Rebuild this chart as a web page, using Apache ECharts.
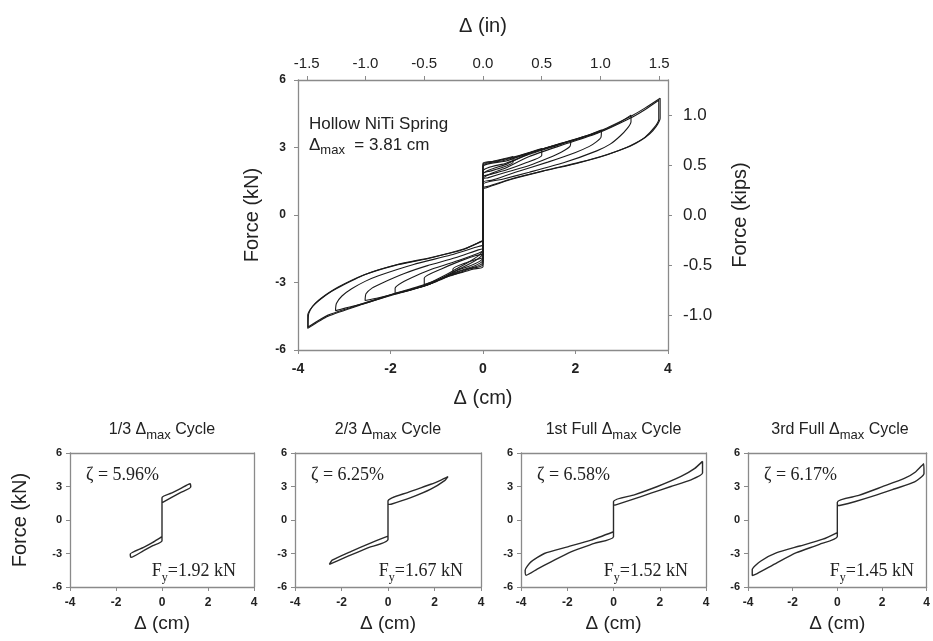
<!DOCTYPE html>
<html><head><meta charset="utf-8">
<script src="https://cdn.jsdelivr.net/npm/echarts@6/dist/echarts.min.js"></script>
<style>html,body{margin:0;padding:0;background:#fff}#c{width:933px;height:641px}</style>
</head><body><div id="c"></div>
<script>
// ---------- tick labels ----------
const cmTicksInterval = 2;          // Δ (cm)
const forceInterval = 3;            // Force (kN)
const inchTicks = [-1.5, -1.0, -0.5, 0.0, 0.5, 1.0, 1.5];   // Δ (in)
const kipTicks = [-1.0, -0.5, 0.0, 0.5, 1.0];                // Force (kips)
const CM_PER_IN = 2.54, KN_PER_KIP = 4.448;

// ---------- main chart: hysteresis loops of increasing amplitude [Δ cm, F kN] ----------
const loopA = [[0,-1.9],[0,2.3],[0.2,2.38],[0.45,2.5],[0.65,2.6],[0.65,2.35],[0.4,2.1],[0.15,1.95],[0,1.85],[0,-2.3],[-0.2,-2.4],[-0.45,-2.55],[-0.65,-2.65],[-0.65,-2.4],[-0.4,-2.15],[-0.15,-1.98],[0,-1.9]];
const loopB = [[0,-1.75],[0,2.25],[0.3,2.4],[0.7,2.6],[1.0,2.78],[1.27,2.95],[1.27,2.65],[0.9,2.3],[0.5,2.0],[0.15,1.8],[0,1.7],[0,-2.2],[-0.3,-2.4],[-0.7,-2.7],[-1.0,-2.9],[-1.27,-3.1],[-1.27,-2.8],[-0.9,-2.4],[-0.5,-2.05],[-0.15,-1.8],[0,-1.75]];
const loopC = [[0,-1.6],[0,2.2],[0.4,2.4],[0.9,2.7],[1.4,3.0],[1.9,3.3],[1.88,3.05],[1.7,2.8],[1.4,2.52],[1.0,2.2],[0.5,1.9],[0.1,1.65],[0,1.6],[0,-2.1],[-0.5,-2.5],[-1.0,-2.95],[-1.5,-3.3],[-1.9,-3.5],[-1.9,-3.25],[-1.75,-3.0],[-1.45,-2.7],[-1.1,-2.4],[-0.5,-2.0],[-0.1,-1.7],[0,-1.6]];
const loopD = [[0,-1.5],[0,2.15],[0.5,2.4],[1.0,2.75],[1.7,3.2],[2.2,3.5],[2.56,3.78],[2.55,3.45],[2.45,3.25],[2.3,3.05],[2.0,2.78],[1.4,2.35],[0.7,1.9],[0.2,1.55],[0,1.45],[0,-2.0],[-0.6,-2.55],[-1.2,-3.1],[-1.9,-3.5],[-2.3,-3.7],[-2.55,-3.8],[-2.53,-3.5],[-2.4,-3.25],[-2.2,-3.04],[-1.7,-2.6],[-1.2,-2.25],[-0.6,-1.9],[-0.1,-1.55],[0,-1.5]];
const loopE = [[0,-1.35],[0,1.95],[0.5,2.3],[1.0,2.7],[1.7,3.15],[2.46,3.65],[2.9,4.05],[3.2,4.44],[3.2,4.15],[3.12,3.85],[2.96,3.5],[2.75,3.15],[2.46,2.85],[1.74,2.32],[1.0,1.9],[0.4,1.58],[0,1.35],[0,-1.9],[-0.6,-2.5],[-1.2,-3.1],[-1.9,-3.5],[-2.6,-3.95],[-3.0,-4.15],[-3.19,-4.25],[-3.17,-3.93],[-3.05,-3.6],[-2.84,-3.28],[-2.55,-2.95],[-2.26,-2.7],[-1.5,-2.2],[-0.7,-1.78],[-0.1,-1.4],[0,-1.35]];
const loopF = [[0,-1.2],[0,1.8],[0.5,2.25],[1.02,2.75],[1.73,3.2],[2.46,3.68],[3.18,4.37],[3.5,4.75],[3.83,5.19],[3.83,4.3],[3.75,3.95],[3.6,3.6],[3.4,3.3],[3.18,3.06],[2.67,2.68],[2.1,2.35],[1.38,2.0],[0.66,1.63],[0.08,1.26],[0,1.22],[0,-1.7],[-0.61,-2.5],[-1.18,-3.1],[-1.9,-3.52],[-2.62,-3.98],[-3.35,-4.5],[-3.79,-5.04],[-3.79,-4.44],[-3.7,-4.1],[-3.56,-3.8],[-3.35,-3.48],[-3.13,-3.2],[-2.62,-2.7],[-1.9,-2.24],[-1.18,-1.93],[-0.46,-1.56],[-0.06,-1.19],[0,-1.15]];
const loopG = [[0,-1.15],[0,1.6],[0.5,2.1],[1.0,2.6],[1.73,3.12],[2.46,3.62],[3.18,4.3],[3.5,4.68],[3.8,5.1],[3.8,4.25],[3.7,3.88],[3.5,3.45],[3.3,3.2],[3.1,3.0],[2.6,2.62],[2.0,2.28],[1.3,1.95],[0.6,1.58],[0.05,1.2],[0,1.18],[0,-1.55],[-0.6,-2.42],[-1.2,-3.05],[-1.9,-3.48],[-2.62,-3.95],[-3.35,-4.45],[-3.78,-4.98],[-3.77,-4.4],[-3.68,-4.05],[-3.5,-3.72],[-3.28,-3.4],[-3.05,-3.14],[-2.55,-2.64],[-1.85,-2.2],[-1.1,-1.88],[-0.4,-1.5],[0,-1.15]];
const mainLoops = [loopA, loopB, loopC, loopD, loopE, loopF, loopG];

// ---------- small panels ----------
const cycleThird     = [[0,-1.5],[0,2.0],[0.4,2.4],[0.8,2.8],[1.22,3.25],[1.25,2.95],[0.8,2.45],[0.4,2.0],[0.05,1.6],[0,1.55],[0,-1.85],[-0.4,-2.3],[-0.8,-2.75],[-1.35,-3.35],[-1.38,-3.05],[-0.8,-2.45],[-0.4,-2.0],[-0.05,-1.55],[0,-1.5]];
const cycleTwoThird  = [[0,-1.45],[0,1.7],[0.84,2.46],[1.84,3.2],[2.3,3.6],[2.58,3.88],[2.45,3.55],[1.84,2.76],[0.98,2.0],[0.13,1.41],[0,1.38],[0,-1.74],[-0.87,-2.5],[-1.72,-3.24],[-2.2,-3.68],[-2.52,-3.98],[-2.4,-3.6],[-1.58,-2.8],[-0.73,-2.04],[0,-1.45]];
const cycleFull1     = [[0,-1.05],[0,1.65],[0.9,2.25],[1.9,3.0],[2.92,3.9],[3.5,4.6],[3.85,5.25],[3.85,4.2],[3.35,3.6],[2.48,3.0],[1.62,2.4],[0.76,1.8],[0.1,1.35],[0,1.3],[0,-1.5],[-0.83,-2.1],[-1.84,-2.85],[-2.7,-3.75],[-3.3,-4.4],[-3.78,-4.95],[-3.82,-4.5],[-3.57,-3.75],[-2.99,-3.0],[-1.98,-2.4],[-0.97,-1.8],[0,-1.05]];
const cycleFull3     = [[0,-1.12],[0,1.6],[0.96,2.2],[1.99,2.96],[3.0,3.72],[3.5,4.3],[3.87,5.05],[3.88,4.17],[3.46,3.41],[2.58,2.8],[1.7,2.2],[0.81,1.66],[0.1,1.3],[0,1.28],[0,-1.48],[-0.8,-2.18],[-1.83,-2.93],[-2.71,-3.84],[-3.59,-4.8],[-3.81,-4.98],[-3.81,-4.44],[-3.44,-3.69],[-2.71,-2.93],[-1.68,-2.33],[-0.65,-1.72],[0,-1.12]];
const panelLoops  = [cycleThird, cycleTwoThird, cycleFull1, cycleFull3];
const panelTitles = ['1/3 Δ', '2/3 Δ', '1st Full Δ', '3rd Full Δ'];
const panelZeta   = ['5.96%', '6.25%', '6.58%', '6.17%'];
const panelFy     = ['1.92 kN', '1.67 kN', '1.52 kN', '1.45 kN'];

// ---------- layout ----------
const SANS = '"Liberation Sans", Arial, sans-serif';
const SERIF = '"Liberation Serif", "Times New Roman", serif';
const TXT = '#222', AX = '#8a8a8a', LN = '#1a1a1a';
const mainGrid = {left: 298, top: 80, width: 370, height: 270};
const smallTop = 453, smallH = 134;
const smallLefts = [70, 295, 521, 748], smallW = [184, 186, 185, 184];

const grids = [Object.assign({show: false}, mainGrid)];
smallLefts.forEach((l, i) => grids.push({left: l, top: smallTop, width: smallW[i], height: smallH, show: false}));

function baseAxis(extra) {
  return Object.assign({
    type: 'value', splitLine: {show: false},
    axisLine: {onZero: false, lineStyle: {color: AX, width: 1.3}},
    axisTick: {show: true, inside: false, length: 4, lineStyle: {color: AX}},
  }, extra);
}
const xAxes = [
  baseAxis({gridIndex: 0, position: 'bottom', min: -4, max: 4, interval: cmTicksInterval,
    axisLabel: {color: TXT, fontFamily: SANS, fontSize: 14, fontWeight: 'bold', margin: 12},
    name: 'Δ (cm)', nameLocation: 'middle', nameGap: 38,
    nameTextStyle: {color: TXT, fontFamily: SANS, fontSize: 20}}),
  baseAxis({gridIndex: 0, position: 'top', min: -4 / CM_PER_IN, max: 4 / CM_PER_IN,
    axisLabel: {customValues: inchTicks, formatter: v => v.toFixed(1), color: TXT, fontFamily: SANS, fontSize: 15, margin: 9},
    axisTick: {customValues: inchTicks, length: 4, lineStyle: {color: AX}},
    name: 'Δ (in)', nameLocation: 'middle', nameGap: 44,
    nameTextStyle: {color: TXT, fontFamily: SANS, fontSize: 20}})
];
const yAxes = [
  baseAxis({gridIndex: 0, position: 'left', min: -6, max: 6, interval: forceInterval,
    axisLabel: {color: TXT, fontFamily: SANS, fontSize: 12, fontWeight: 'bold', margin: 12},
    name: 'Force (kN)', nameLocation: 'middle', nameGap: 36,
    nameTextStyle: {color: TXT, fontFamily: SANS, fontSize: 20}}),
  baseAxis({gridIndex: 0, position: 'right', min: -6 / KN_PER_KIP, max: 6 / KN_PER_KIP,
    axisLabel: {customValues: kipTicks, formatter: v => v.toFixed(1), color: TXT, fontFamily: SANS, fontSize: 17, margin: 15},
    axisTick: {customValues: kipTicks, length: 4, lineStyle: {color: AX}},
    name: 'Force (kips)', nameLocation: 'middle', nameGap: 62,
    nameTextStyle: {color: TXT, fontFamily: SANS, fontSize: 20}})
];
for (let i = 0; i < 4; i++) {
  xAxes.push(baseAxis({gridIndex: i + 1, position: 'bottom', min: -4, max: 4, interval: cmTicksInterval,
    axisLabel: {color: TXT, fontFamily: SANS, fontSize: 12, fontWeight: 'bold', margin: 10},
    name: 'Δ (cm)', nameLocation: 'middle', nameGap: 27,
    nameTextStyle: {color: TXT, fontFamily: SANS, fontSize: 19}}));
  xAxes.push(baseAxis({gridIndex: i + 1, position: 'top', min: -4, max: 4, interval: cmTicksInterval,
    axisLabel: {show: false}, axisTick: {show: false}}));
  yAxes.push(baseAxis({gridIndex: i + 1, position: 'left', min: -6, max: 6, interval: forceInterval,
    axisLabel: {color: TXT, fontFamily: SANS, fontSize: 11, fontWeight: 'bold', margin: 8},
    name: i === 0 ? 'Force (kN)' : '', nameLocation: 'middle', nameGap: 40,
    nameTextStyle: {color: TXT, fontFamily: SANS, fontSize: 20}}));
  yAxes.push(baseAxis({gridIndex: i + 1, position: 'right', min: -6, max: 6, interval: forceInterval,
    axisLabel: {show: false}, axisTick: {show: false}}));
}

const series = [];
mainLoops.forEach(d => series.push({type: 'line', xAxisIndex: 0, yAxisIndex: 0, data: d, showSymbol: false,
  silent: true, smooth: 0.2, lineStyle: {color: LN, width: 1.1}}));
panelLoops.forEach((d, i) => series.push({type: 'line', xAxisIndex: 2 + i * 2, yAxisIndex: 2 + i * 2, data: d,
  showSymbol: false, silent: true, smooth: 0.2, lineStyle: {color: '#2a2a2a', width: 1.4}}));

// ---------- text ----------
const graphic = [
  {type: 'text', left: 309, top: 116, style: {text: 'Hollow NiTi Spring', fill: TXT, font: '17px ' + SANS}},
  {type: 'text', x: 309, y: 137, style: {
    text: '{a|Δ}{s|max}{a|  = 3.81 cm}', verticalAlign: 'top', align: 'left',
    rich: {a: {fontSize: 17, fontFamily: SANS, fill: TXT, lineHeight: 20, verticalAlign: 'top'},
           s: {fontSize: 13, fontFamily: SANS, fill: TXT, lineHeight: 14, verticalAlign: 'bottom', padding: [11, 0, 0, 0]}}}}
];
for (let i = 0; i < 4; i++) {
  const l = smallLefts[i], w = smallW[i];
  graphic.push({type: 'text', x: l + w / 2, y: 422, style: {
    text: '{a|' + panelTitles[i] + '}{s|max}{a| Cycle}', align: 'center', verticalAlign: 'top',
    rich: {a: {fontSize: 16, fontFamily: SANS, fill: TXT, lineHeight: 20, verticalAlign: 'top'},
           s: {fontSize: 13, fontFamily: SANS, fill: TXT, lineHeight: 14, verticalAlign: 'bottom', padding: [14, 0, 0, 0]}}}});
  graphic.push({type: 'text', x: l + 16, y: smallTop + 22, style: {
    text: 'ζ = ' + panelZeta[i], fill: TXT, font: '18px ' + SERIF, align: 'left', verticalAlign: 'middle'}});
  graphic.push({type: 'text', x: l + w - 18, y: smallTop + smallH - 25, style: {
    text: '{a|F}{s|y}{a|=' + panelFy[i] + '}', align: 'right', verticalAlign: 'top',
    rich: {a: {fontSize: 18, fontFamily: SERIF, fill: TXT, lineHeight: 22, verticalAlign: 'top'},
           s: {fontSize: 12, fontFamily: SERIF, fill: TXT, lineHeight: 14, verticalAlign: 'bottom', padding: [9, 0, 0, 0]}}}});
}

const chart = echarts.init(document.getElementById('c'), null, {renderer: 'canvas'});
chart.setOption({
  animation: false, backgroundColor: '#fff',
  grid: grids, xAxis: xAxes, yAxis: yAxes, series: series, graphic: graphic
});
</script></body></html>
